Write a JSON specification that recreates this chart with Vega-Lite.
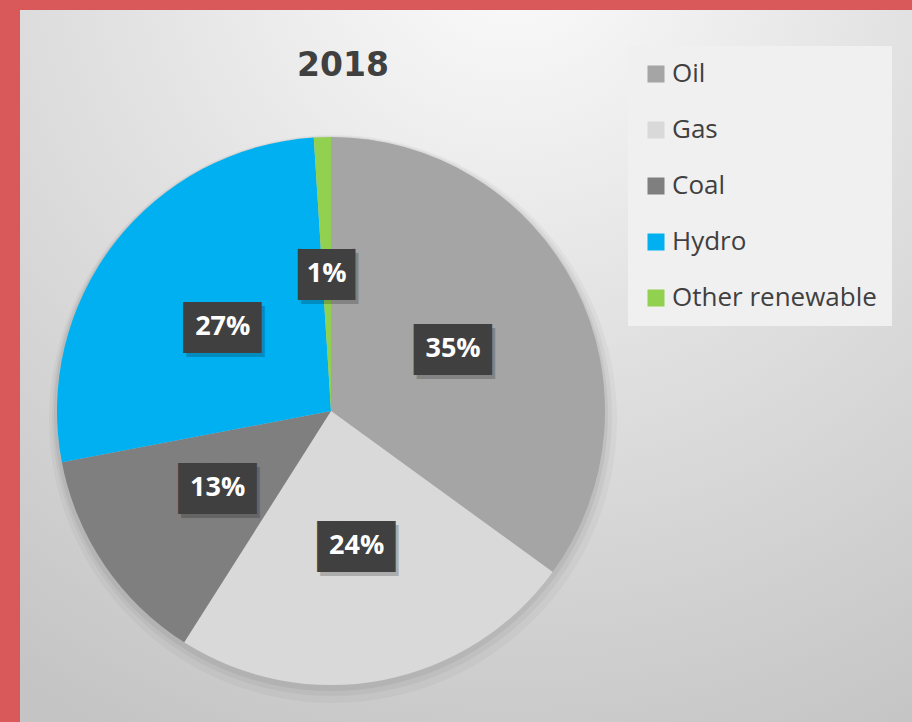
{
  "$schema": "https://vega.github.io/schema/vega-lite/v6.json",
  "width": 892,
  "height": 712,
  "autosize": {"type": "none"},
  "padding": {"left": 20, "top": 10, "right": 0, "bottom": 0},
  "background": "#d9585a",
  "view": {
    "stroke": null,
    "fill": {
      "gradient": "radial",
      "x1": 0.55, "y1": 0.02, "r1": 0,
      "x2": 0.55, "y2": 0.02, "r2": 1,
      "stops": [
        {"offset": 0, "color": "#fcfcfc"},
        {"offset": 0.45, "color": "#e2e2e2"},
        {"offset": 1, "color": "#c4c4c4"}
      ]
    }
  },
  "title": {
    "text": "2018",
    "font": "DejaVu Sans",
    "fontSize": 33,
    "fontWeight": "bold",
    "color": "#404040",
    "anchor": "middle",
    "baseline": "alphabetic",
    "offset": -99,
    "dx": -123
  },
  "datasets": {
    "energy": [
      {"source": "Oil", "share": 0.35, "idx": 1},
      {"source": "Gas", "share": 0.24, "idx": 2},
      {"source": "Coal", "share": 0.13, "idx": 3},
      {"source": "Hydro", "share": 0.27, "idx": 4},
      {"source": "Other renewable", "share": 0.01, "idx": 5}
    ],
    "disc": [{"name": "shadow"}]
  },
  "layer": [
    {
      "data": {"name": "disc"},
      "mark": {"type": "arc", "outerRadius": 284, "fill": "#000000", "opacity": 0.03},
      "encoding": {"theta": {"value": 0}, "theta2": {"value": 6.2832}, "x": {"value": 313}, "y": {"value": 409}}
    },
    {
      "data": {"name": "disc"},
      "mark": {"type": "arc", "outerRadius": 280, "fill": "#000000", "opacity": 0.04},
      "encoding": {"theta": {"value": 0}, "theta2": {"value": 6.2832}, "x": {"value": 312}, "y": {"value": 406}}
    },
    {
      "data": {"name": "disc"},
      "mark": {"type": "arc", "outerRadius": 277, "fill": "#000000", "opacity": 0.05},
      "encoding": {"theta": {"value": 0}, "theta2": {"value": 6.2832}, "x": {"value": 311}, "y": {"value": 404}}
    },
    {
      "data": {"name": "energy"},
      "mark": {"type": "arc", "outerRadius": 274, "strokeWidth": 0},
      "encoding": {
        "theta": {"field": "share", "type": "quantitative", "stack": true},
        "order": {"field": "idx", "type": "quantitative"},
        "x": {"value": 311},
        "y": {"value": 401},
        "color": {
          "field": "source",
          "type": "nominal",
          "sort": ["Oil", "Gas", "Coal", "Hydro", "Other renewable"],
          "scale": {
            "domain": ["Oil", "Gas", "Coal", "Hydro", "Other renewable"],
            "range": ["#a5a5a5", "#d9d9d9", "#7f7f7f", "#00b0f0", "#92d050"]
          },
          "legend": {
            "title": null,
            "orient": "none",
            "legendX": 608,
            "legendY": 36,
            "symbolType": "square",
            "symbolSize": 289,
            "symbolStrokeWidth": 0,
            "symbolOpacity": 1,
            "labelFont": "Open Sans",
            "labelFontSize": 26,
            "labelColor": "#404040",
            "labelOffset": 3,
            "labelLimit": 400,
            "rowPadding": 30,
            "padding": 15,
            "fillColor": "#f0f0f0"
          }
        }
      }
    },
    {
      "data": {"name": "energy"},
      "mark": {"type": "text", "radius": 137, "font": "DejaVu Sans Mono", "fontSize": 43, "fill": "#000000", "opacity": 0.2, "dx": 3, "dy": 6, "align": "center", "baseline": "middle"},
      "encoding": {
        "theta": {"field": "share", "type": "quantitative", "stack": true},
        "order": {"field": "idx", "type": "quantitative"},
        "detail": {"field": "source"},
        "x": {"value": 311},
        "y": {"value": 401},
        "text": {"condition": {"test": "datum.share < 0.1", "value": "▕██▏"}, "value": "███"}
      }
    },
    {
      "data": {"name": "energy"},
      "mark": {"type": "text", "radius": 137, "font": "DejaVu Sans Mono", "fontSize": 43, "fill": "#404040", "dy": 2, "align": "center", "baseline": "middle"},
      "encoding": {
        "theta": {"field": "share", "type": "quantitative", "stack": true},
        "order": {"field": "idx", "type": "quantitative"},
        "detail": {"field": "source"},
        "x": {"value": 311},
        "y": {"value": 401},
        "text": {"condition": {"test": "datum.share < 0.1", "value": "▕██▏"}, "value": "███"}
      }
    },
    {
      "data": {"name": "energy"},
      "mark": {"type": "text", "radius": 137, "font": "Open Sans", "fontWeight": "bold", "fontSize": 27, "fill": "#ffffff", "align": "center", "baseline": "middle"},
      "encoding": {
        "theta": {"field": "share", "type": "quantitative", "stack": true},
        "order": {"field": "idx", "type": "quantitative"},
        "detail": {"field": "source"},
        "x": {"value": 311},
        "y": {"value": 401},
        "text": {"field": "share", "type": "quantitative", "format": ".0%"}
      }
    }
  ]
}
